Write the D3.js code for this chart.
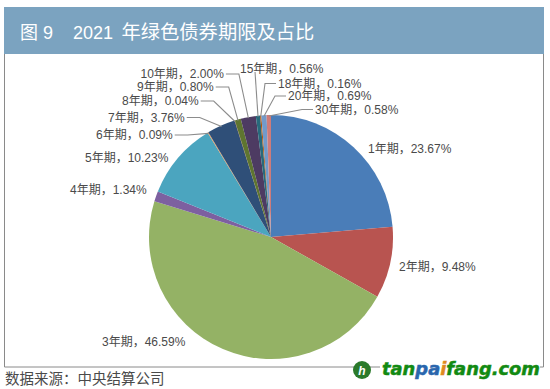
<!DOCTYPE html>
<html>
<head>
<meta charset="utf-8">
<script src="https://cdn.jsdelivr.net/npm/d3@7"></script>
<style>
  html, body { margin: 0; padding: 0; background: #fff; }
  svg { display: block; }
  text { font-family: "Liberation Sans", "Noto Sans CJK SC", sans-serif; }
</style>
</head>
<body>
<div id="chart"></div>
<script>
const terms = ["1年期", "2年期", "3年期", "4年期", "5年期", "6年期", "7年期", "8年期", "9年期", "10年期", "15年期", "18年期", "20年期", "30年期"];
const shares = [23.67, 9.48, 46.59, 1.34, 10.23, 0.09, 3.76, 0.04, 0.80, 2.00, 0.56, 0.16, 0.69, 0.58];
const colors = ["#4a7db8", "#b85450", "#94b265", "#7d60a0", "#4ba5bf", "#f79646", "#2f4f78", "#772c2a", "#5f7530", "#4d3b62", "#276a7c", "#b65708", "#729aca", "#ce7b79"];

const width = 550;
const height = 389;
const cx = 271, cy = 237, radius = 122;

// label anchor points, same order as terms: [x of text start, baseline y]
const labelSpots = [
  [368, 153], [399, 271], [102, 346], [70, 193.5], [85, 161.5], [96, 139],
  [108, 121.5], [122, 105], [137, 91], [140.5, 78], [240, 73], [278, 87.5], [288, 100], [315, 113.5]
];
const noLeader = new Set(["1年期", "2年期", "3年期", "4年期", "5年期"]);

const svg = d3.select("#chart").append("svg")
  .attr("width", width)
  .attr("height", height);

// header bar and frame
svg.append("rect")
  .attr("x", 4).attr("y", 7).attr("width", 540).attr("height", 47)
  .attr("fill", "#7ba3c0");
svg.append("path")
  .attr("d", "M4.5 54V367H543.5V54")
  .attr("fill", "none").attr("stroke", "#8a8a8a").attr("stroke-width", 1);
const title = svg.append("text")
  .attr("y", 38.5)
  .attr("fill", "#fff").attr("font-size", 18);
title.append("tspan").attr("x", 20).attr("font-size", 18).text("图");
title.append("tspan").attr("x", 43).text("9");
title.append("tspan").attr("x", 73).text("2021");
title.append("tspan").attr("x", 121.5).attr("font-size", 19.3).text("年绿色债券期限及占比");

const pie = d3.pie().sort(null).value(d => d);
const arc = d3.arc().innerRadius(0).outerRadius(radius);
const arcs = pie(shares);

const g = svg.append("g").attr("transform", `translate(${cx},${cy})`);
g.selectAll("path")
  .data(arcs)
  .enter().append("path")
  .attr("d", arc)
  .attr("fill", (d, i) => colors[i]);

// leader lines run from the label end to the slice middle on the rim
const labels = svg.selectAll(".lab")
  .data(terms)
  .enter().append("text")
  .attr("class", "lab")
  .attr("x", (d, i) => labelSpots[i][0])
  .attr("y", (d, i) => labelSpots[i][1])
  .attr("font-size", 12)
  .attr("fill", "#4a4a4a")
  .text((d, i) => `${d}，${shares[i].toFixed(2)}%`);

labels.each(function (d, i) {
  if (noLeader.has(d)) return;
  const rimAngle = (arcs[i].startAngle + arcs[i].endAngle) / 2;
  const rimX = cx + Math.sin(rimAngle) * (radius - 1);
  const rimY = cy - Math.cos(rimAngle) * (radius - 1);
  const y = labelSpots[i][1] - 4;
  let points;
  if (d === "15年期") {
    points = [[rimX, rimY], [rimX - 3, y + 3]];
  } else if (i < 10) {
    const end = this.getComputedTextLength() + labelSpots[i][0] + 2;
    points = [[end, y], [end + 13, y], [rimX, rimY]];
  } else {
    const start = labelSpots[i][0] - 2;
    points = [[start, y], [start - 11, y], [rimX, rimY]];
  }
  svg.append("path")
    .attr("d", d3.line()(points))
    .attr("fill", "none")
    .attr("stroke", "#8c8c8c")
    .attr("stroke-width", 1.1);
});

svg.append("text")
  .attr("x", 5).attr("y", 384)
  .attr("font-size", 14.5)
  .attr("fill", "#4a4a4a")
  .text("数据来源：中央结算公司");

// watermark
svg.append("rect").attr("x", 380).attr("y", 362).attr("width", 160).attr("height", 8).attr("fill", "#fff");
svg.append("circle").attr("cx", 362).attr("cy", 370).attr("r", 9).attr("fill", "#2b7a2b");
svg.append("text")
  .attr("x", 362).attr("y", 374.5)
  .attr("text-anchor", "middle")
  .attr("font-size", 12).attr("font-weight", "bold").attr("font-style", "italic")
  .attr("fill", "#fff").text("h");
const mark = svg.append("text")
  .attr("x", 382).attr("y", 375)
  .attr("font-size", 18).attr("font-weight", "bold").attr("font-style", "italic")
  .attr("textLength", 158).attr("lengthAdjust", "spacingAndGlyphs")
  .attr("stroke-width", 0.5)
  .style("font-family", "DejaVu Sans");
mark.append("tspan").attr("fill", "#128a12").attr("stroke", "#128a12").text("tan");
mark.append("tspan").attr("fill", "#2a66ad").attr("stroke", "#2a66ad").text("pa");
mark.append("tspan").attr("fill", "#e08a1e").attr("stroke", "#e08a1e").text("i");
mark.append("tspan").attr("fill", "#128a12").attr("stroke", "#128a12").text("fang.com");
</script>
</body>
</html>
